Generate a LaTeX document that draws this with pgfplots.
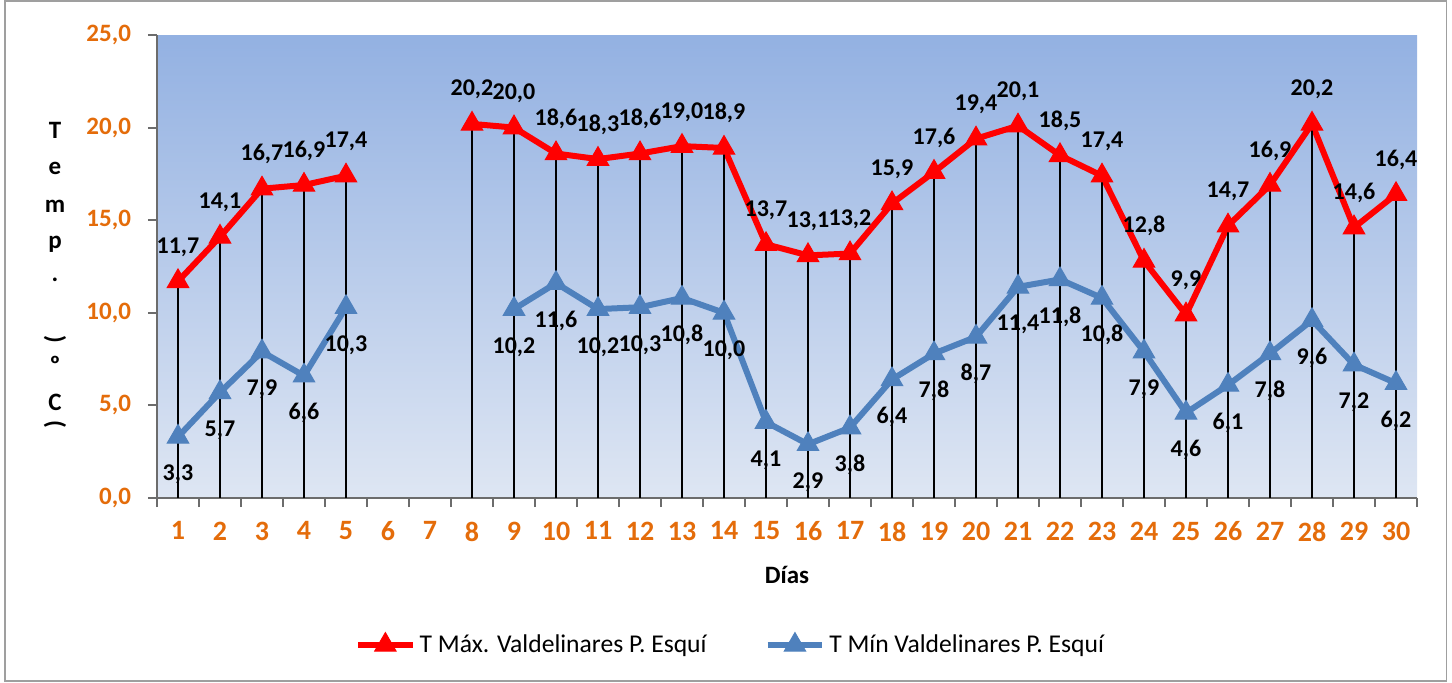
\documentclass[border=0pt]{standalone}
\usepackage{pgfplots}
\pgfplotsset{compat=1.18}
\usepackage{fontspec}
\setmainfont{Carlito}
\definecolor{tickorange}{RGB}{228,108,10}
\definecolor{minblue}{RGB}{79,129,189}
\definecolor{bgtop}{RGB}{147,177,226}
\definecolor{bgbot}{RGB}{222,230,243}
\pgfplotstableread{
x tmax tmin
1 11.7 3.3
2 14.1 5.7
3 16.7 7.9
4 16.9 6.6
5 17.4 10.3
6 nan nan
7 nan nan
8 20.2 nan
9 20.0 10.2
10 18.6 11.6
11 18.3 10.2
12 18.6 10.3
13 19.0 10.8
14 18.9 10.0
15 13.7 4.1
16 13.1 2.9
17 13.2 3.8
18 15.9 6.4
19 17.6 7.8
20 19.4 8.7
21 20.1 11.4
22 18.5 11.8
23 17.4 10.8
24 12.8 7.9
25 9.9 4.6
26 14.7 6.1
27 16.9 7.8
28 20.2 9.6
29 14.6 7.2
30 16.4 6.2
}\datatable
\begin{document}
\begin{tikzpicture}
\useasboundingbox (0,0) rectangle (726pt,341pt);
\draw[gray!75, line width=0.8pt] (2.5pt,0.6pt) rectangle (723.3pt,340.4pt);
% stacked y label
\foreach \ch/\yy in {T/130, e/168, m/206, p/244, ./280, º/365, C/402}{
  \node[font=\bfseries\fontsize{12.5}{14}\selectfont] at (27.5pt,{(682-\yy)*0.5pt}) {\ch};
}
\node[font=\bfseries\fontsize{12.5}{14}\selectfont] at (27.5pt,{(682-339)*0.5pt}) {\rotatebox{-90}{)}};
\node[font=\bfseries\fontsize{12.5}{14}\selectfont] at (27.5pt,{(682-424)*0.5pt}) {\rotatebox{-90}{(}};
\begin{axis}[
  at={(78.5pt,92pt)}, anchor=south west,
  scale only axis, width=630pt, height=231.5pt,
  xmin=0.5, xmax=30.5, ymin=0, ymax=25,
  clip=false,
  unbounded coords=jump,
  axis x line=bottom, axis y line=left,
  axis line style={-, draw=gray!85!black, line width=1pt},
  axis background/.style={top color=bgtop, bottom color=bgbot},
  xtick={1,...,30}, ytick={0,5,10,15,20,25},
  minor xtick={0.5,1.5,...,30.5},
  tick align=outside,
  major tick length=4.5pt, minor tick length=4.5pt,
  major x tick style={draw=none},
  minor x tick style={draw=gray!85!black, line width=1pt},
  major y tick style={draw=gray!85!black, line width=1pt},
  /pgf/number format/.cd, use comma, assume math mode=true, /pgfplots/.cd,
  yticklabel style={font=\bfseries\fontsize{12.5}{14}\selectfont, text=tickorange, xshift=-5pt,
    /pgf/number format/.cd, fixed, fixed zerofill, precision=1},
  xticklabel style={font=\bfseries\fontsize{14}{16}\selectfont, text=tickorange, yshift=-3.8pt},
  xlabel={Días},
  xlabel style={at={(axis description cs:0.5,0)}, anchor=base, yshift=-42.5pt,
    font=\bfseries\fontsize{12.5}{14}\selectfont},
  legend columns=2,
  legend style={at={(0.456,-0.3175)}, anchor=center, draw=none, fill=none,
    font=\fontsize{12.8}{14}\selectfont,
    /tikz/every even column/.append style={column sep=27pt}},
  legend image code/.code={\draw[mark repeat=2,mark phase=2,#1] plot coordinates {(0cm,0cm) (0.48cm,0cm) (0.96cm,0cm)};},
]
\addplot[red, line width=3pt, mark=triangle*, mark size=6.2pt, mark options={solid, line width=0.5pt}] table[x=x, y=tmax] {\datatable};
\addlegendentry{T Máx. Valdelinares P. Esquí}
\addplot[minblue, line width=3pt, mark=triangle*, mark size=6.2pt, mark options={solid, line width=0.5pt}] table[x=x, y=tmin] {\datatable};
\addlegendentry{T Mín Valdelinares P. Esquí}
% drop lines
\addplot[forget plot, ycomb, black, line width=0.9pt, mark=none] coordinates {
(1,11.7)(2,14.1)(3,16.7)(4,16.9)(5,17.4)(8,20.2)(9,20.0)(10,18.6)(11,18.3)(12,18.6)
(13,19.0)(14,18.9)(15,13.7)(16,13.1)(17,13.2)(18,15.9)(19,17.6)(20,19.4)(21,20.1)
(22,18.5)(23,17.4)(24,12.8)(25,9.9)(26,14.7)(27,16.9)(28,20.2)(29,14.6)(30,16.4)};
% labels
\addplot[forget plot, only marks, mark=none, nodes near coords,
  nodes near coords style={font=\bfseries\fontsize{12}{14}\selectfont, text=black, anchor=base, yshift=14pt, inner sep=0pt,
    /pgf/number format/.cd, fixed, fixed zerofill, precision=1, use comma}]
  table[x=x, y=tmax] {\datatable};
\addplot[forget plot, only marks, mark=none, nodes near coords,
  nodes near coords style={font=\bfseries\fontsize{12}{14}\selectfont, text=black, anchor=base, yshift=-22pt, inner sep=0pt,
    /pgf/number format/.cd, fixed, fixed zerofill, precision=1, use comma}]
  table[x=x, y=tmin] {\datatable};
\end{axis}
\end{tikzpicture}
\end{document}
